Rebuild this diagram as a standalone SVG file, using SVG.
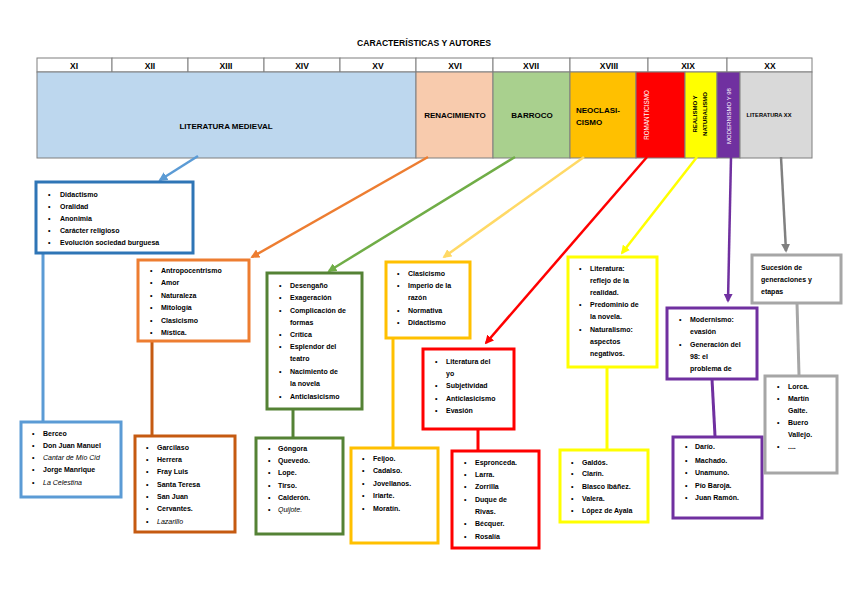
<svg xmlns="http://www.w3.org/2000/svg" width="848" height="599" viewBox="0 0 848 599">
<style>
text{font-family:"Liberation Sans",Arial,sans-serif;}
.t{font-size:7px;font-weight:bold;fill:#000;}
.i{font-size:7px;font-style:italic;font-weight:normal;fill:#000;}
.h{font-size:8.5px;font-weight:bold;fill:#000;text-anchor:middle;}
.p{font-size:8px;font-weight:bold;fill:#000;}
.cell{stroke:#7f7f7f;stroke-width:1;}
.box{fill:#fff;stroke-width:3;}
.con{fill:none;stroke-width:3;}
.arr{fill:none;stroke-width:2.5;}
</style>
<defs>
<marker id="mBlue" viewBox="0 0 10 10" refX="8" refY="5" markerWidth="9" markerHeight="9" markerUnits="userSpaceOnUse" orient="auto"><path d="M0,0 L10,5 L0,10 z" fill="#5b9bd5"/></marker>
<marker id="mOrange" viewBox="0 0 10 10" refX="8" refY="5" markerWidth="9" markerHeight="9" markerUnits="userSpaceOnUse" orient="auto"><path d="M0,0 L10,5 L0,10 z" fill="#ed7d31"/></marker>
<marker id="mGreen" viewBox="0 0 10 10" refX="8" refY="5" markerWidth="9" markerHeight="9" markerUnits="userSpaceOnUse" orient="auto"><path d="M0,0 L10,5 L0,10 z" fill="#70ad47"/></marker>
<marker id="mGold" viewBox="0 0 10 10" refX="8" refY="5" markerWidth="9" markerHeight="9" markerUnits="userSpaceOnUse" orient="auto"><path d="M0,0 L10,5 L0,10 z" fill="#ffd966"/></marker>
<marker id="mRed" viewBox="0 0 10 10" refX="8" refY="5" markerWidth="9" markerHeight="9" markerUnits="userSpaceOnUse" orient="auto"><path d="M0,0 L10,5 L0,10 z" fill="#ff0000"/></marker>
<marker id="mYellow" viewBox="0 0 10 10" refX="8" refY="5" markerWidth="9" markerHeight="9" markerUnits="userSpaceOnUse" orient="auto"><path d="M0,0 L10,5 L0,10 z" fill="#ffff00"/></marker>
<marker id="mPurple" viewBox="0 0 10 10" refX="8" refY="5" markerWidth="9" markerHeight="9" markerUnits="userSpaceOnUse" orient="auto"><path d="M0,0 L10,5 L0,10 z" fill="#7030a0"/></marker>
<marker id="mGray" viewBox="0 0 10 10" refX="8" refY="5" markerWidth="9" markerHeight="9" markerUnits="userSpaceOnUse" orient="auto"><path d="M0,0 L10,5 L0,10 z" fill="#808080"/></marker>
</defs>
<rect width="848" height="599" fill="#fff"/>
<text x="424" y="46" class="h" style="font-size:8.6px">CARACTERÍSTICAS Y AUTORES</text>

<g id="centuries">
<rect class="cell" x="37" y="58" width="75" height="14" fill="#fff"/>
<rect class="cell" x="112" y="58" width="76" height="14" fill="#fff"/>
<rect class="cell" x="188" y="58" width="76" height="14" fill="#fff"/>
<rect class="cell" x="264" y="58" width="76" height="14" fill="#fff"/>
<rect class="cell" x="340" y="58" width="76" height="14" fill="#fff"/>
<rect class="cell" x="416" y="58" width="77" height="14" fill="#fff"/>
<rect class="cell" x="493" y="58" width="77" height="14" fill="#fff"/>
<rect class="cell" x="570" y="58" width="78" height="14" fill="#fff"/>
<rect class="cell" x="648" y="58" width="79" height="14" fill="#fff"/>
<rect class="cell" x="727" y="58" width="85" height="14" fill="#fff"/>
<text class="h" x="74" y="68.5">XI</text>
<text class="h" x="150" y="68.5">XII</text>
<text class="h" x="226" y="68.5">XIII</text>
<text class="h" x="302" y="68.5">XIV</text>
<text class="h" x="378" y="68.5">XV</text>
<text class="h" x="455" y="68.5">XVI</text>
<text class="h" x="531" y="68.5">XVII</text>
<text class="h" x="609" y="68.5">XVIII</text>
<text class="h" x="688" y="68.5">XIX</text>
<text class="h" x="770" y="68.5">XX</text>
</g>

<g id="periods">
<rect class="cell" x="37" y="72" width="379" height="86" fill="#bdd7ee"/>
<rect class="cell" x="416" y="72" width="77" height="86" fill="#f8cbad"/>
<rect class="cell" x="493" y="72" width="77" height="86" fill="#a9d08e"/>
<rect class="cell" x="570" y="72" width="66" height="86" fill="#ffc000"/>
<rect class="cell" x="636" y="72" width="49" height="86" fill="#ff0000"/>
<rect class="cell" x="685" y="72" width="32" height="86" fill="#ffff00"/>
<rect class="cell" x="717" y="72" width="23" height="86" fill="#7030a0"/>
<rect class="cell" x="740" y="72" width="72" height="86" fill="#d9d9d9"/>
<text class="h" x="226" y="129" style="font-size:8px">LITERATURA MEDIEVAL</text>
<text class="h" x="455" y="118" style="font-size:8px">RENACIMIENTO</text>
<text class="h" x="532" y="118" style="font-size:8px">BARROCO</text>
<text class="p" x="576" y="113">NEOCLASI-</text>
<text class="p" x="576" y="125">CISMO</text>
<text class="h" transform="translate(649,115) rotate(-90)" style="font-size:6.3px;fill:#fff;font-weight:normal">ROMANTICISMO</text>
<text class="h" transform="translate(697,114) rotate(-90)" style="font-size:6px">REALISMO Y</text>
<text class="h" transform="translate(707,114) rotate(-90)" style="font-size:6px">NATURALISMO</text>
<text class="h" transform="translate(731,116) rotate(-90)" style="font-size:6px;fill:#fff;font-weight:normal">MODERNISMO Y 98</text>
<text class="h" x="769" y="117" style="font-size:5.7px">LITERATURA XX</text>
</g>

<g id="connectors">
<path class="arr" stroke="#5b9bd5" d="M198,156 L160,180" marker-end="url(#mBlue)"/>
<path class="arr" stroke="#ed7d31" d="M428,157 L252,257" marker-end="url(#mOrange)"/>
<path class="arr" stroke="#70ad47" d="M515,157 L329,271" marker-end="url(#mGreen)"/>
<path class="arr" stroke="#ffd966" d="M584,157 L444,257" marker-end="url(#mGold)"/>
<path class="arr" stroke="#ff0000" d="M647,157 L486,343" marker-end="url(#mRed)"/>
<path class="arr" stroke="#ffff00" d="M697,157 L622,253" marker-end="url(#mYellow)"/>
<path class="arr" stroke="#7030a0" d="M731,157 L728,301" marker-end="url(#mPurple)"/>
<path class="arr" stroke="#808080" d="M781,157 L786,251" marker-end="url(#mGray)"/>
<path class="con" stroke="#5b9bd5" d="M43,253 L43,421"/>
<path class="con" stroke="#c55a11" d="M152,341 L152,435"/>
<path class="con" stroke="#548235" d="M293,409 L293,437"/>
<path class="con" stroke="#ffc000" d="M393,338 L393,447"/>
<path class="con" stroke="#ff0000" d="M478,429 L478,450"/>
<path class="con" stroke="#ffff00" d="M607,367 L607,449"/>
<path class="con" stroke="#7030a0" d="M712,379 L715,436"/>
<path class="con" stroke="#a6a6a6" d="M797,303 L799,375"/>
</g>

<g id="medieval-car">
<rect class="box" x="36" y="182" width="157" height="71" stroke="#2e75b6"/>
<text class="t" x="48" y="197">•</text><text class="t" x="60" y="197">Didactismo</text>
<text class="t" x="48" y="209">•</text><text class="t" x="60" y="209">Oralidad</text>
<text class="t" x="48" y="221">•</text><text class="t" x="60" y="221">Anonimia</text>
<text class="t" x="48" y="233">•</text><text class="t" x="60" y="233">Carácter religioso</text>
<text class="t" x="48" y="245">•</text><text class="t" x="60" y="245">Evolución sociedad burguesa</text>
</g>

<g id="renacimiento-car">
<rect class="box" x="138" y="260" width="111" height="81" stroke="#ed7d31"/>
<text class="t" x="150" y="273">•</text><text class="t" x="161" y="273">Antropocentrismo</text>
<text class="t" x="150" y="285">•</text><text class="t" x="161" y="285">Amor</text>
<text class="t" x="150" y="298">•</text><text class="t" x="161" y="298">Naturaleza</text>
<text class="t" x="150" y="310">•</text><text class="t" x="161" y="310">Mitología</text>
<text class="t" x="150" y="323">•</text><text class="t" x="161" y="323">Clasicismo</text>
<text class="t" x="150" y="335">•</text><text class="t" x="161" y="335">Mística.</text>
</g>

<g id="barroco-car">
<rect class="box" x="267" y="273" width="95" height="136" stroke="#548235"/>
<text class="t" x="279" y="288">•</text><text class="t" x="290" y="288">Desengaño</text>
<text class="t" x="279" y="300">•</text><text class="t" x="290" y="300">Exageración</text>
<text class="t" x="279" y="313">•</text><text class="t" x="290" y="313">Complicación de</text>
<text class="t" x="290" y="325">formas</text>
<text class="t" x="279" y="337">•</text><text class="t" x="290" y="337">Crítica</text>
<text class="t" x="279" y="349">•</text><text class="t" x="290" y="349">Esplendor del</text>
<text class="t" x="290" y="361">teatro</text>
<text class="t" x="279" y="374">•</text><text class="t" x="290" y="374">Nacimiento de</text>
<text class="t" x="290" y="386">la novela</text>
<text class="t" x="279" y="399">•</text><text class="t" x="290" y="399">Anticlasicismo</text>
</g>

<g id="neoclasicismo-car">
<rect class="box" x="386" y="262" width="84" height="76" stroke="#ffc000"/>
<text class="t" x="397" y="276">•</text><text class="t" x="408" y="276">Clasicismo</text>
<text class="t" x="397" y="288">•</text><text class="t" x="408" y="288">Imperio de la</text>
<text class="t" x="408" y="300">razón</text>
<text class="t" x="397" y="313">•</text><text class="t" x="408" y="313">Normativa</text>
<text class="t" x="397" y="325">•</text><text class="t" x="408" y="325">Didactismo</text>
</g>

<g id="romanticismo-car">
<rect class="box" x="423" y="349" width="91" height="80" stroke="#ff0000"/>
<text class="t" x="435" y="364">•</text><text class="t" x="446" y="364">Literatura del</text>
<text class="t" x="446" y="376">yo</text>
<text class="t" x="435" y="388">•</text><text class="t" x="446" y="388">Subjetividad</text>
<text class="t" x="435" y="401">•</text><text class="t" x="446" y="401">Anticlasicismo</text>
<text class="t" x="435" y="413">•</text><text class="t" x="446" y="413">Evasión</text>
</g>

<g id="realismo-car">
<rect class="box" x="568" y="257" width="89" height="110" stroke="#ffff00"/>
<text class="t" x="579" y="271">•</text><text class="t" x="590" y="271">Literatura:</text>
<text class="t" x="590" y="283">reflejo de la</text>
<text class="t" x="590" y="295">realidad.</text>
<text class="t" x="579" y="307">•</text><text class="t" x="590" y="307">Predominio de</text>
<text class="t" x="590" y="319">la novela.</text>
<text class="t" x="579" y="332">•</text><text class="t" x="590" y="332">Naturalismo:</text>
<text class="t" x="590" y="344">aspectos</text>
<text class="t" x="590" y="356">negativos.</text>
</g>

<g id="modernismo-car">
<rect class="box" x="667" y="308" width="90" height="71" stroke="#7030a0"/>
<text class="t" x="679" y="322">•</text><text class="t" x="690" y="322">Modernismo:</text>
<text class="t" x="690" y="334">evasión</text>
<text class="t" x="679" y="347">•</text><text class="t" x="690" y="347">Generación del</text>
<text class="t" x="690" y="359">98: el</text>
<text class="t" x="690" y="371">problema de</text>
</g>

<g id="xx-car">
<rect class="box" x="752" y="255" width="89" height="48" stroke="#a6a6a6"/>
<text class="t" x="761" y="270">Sucesión de</text>
<text class="t" x="761" y="282">generaciones y</text>
<text class="t" x="761" y="294">etapas</text>
</g>

<g id="medieval-aut">
<rect class="box" x="21" y="422" width="100" height="75" stroke="#5b9bd5"/>
<text class="t" x="32" y="436">•</text><text class="t" x="43" y="436">Berceo</text>
<text class="t" x="32" y="448">•</text><text class="t" x="43" y="448">Don Juan Manuel</text>
<text class="t" x="32" y="460">•</text><text class="i" x="43" y="460">Cantar de Mío Cid</text>
<text class="t" x="32" y="472">•</text><text class="t" x="43" y="472">Jorge Manrique</text>
<text class="t" x="32" y="485">•</text><text class="i" x="43" y="485">La Celestina</text>
</g>

<g id="renacimiento-aut">
<rect class="box" x="135" y="436" width="100" height="96" stroke="#c55a11"/>
<text class="t" x="146" y="450">•</text><text class="t" x="157" y="450">Garcilaso</text>
<text class="t" x="146" y="462">•</text><text class="t" x="157" y="462">Herrera</text>
<text class="t" x="146" y="474">•</text><text class="t" x="157" y="474">Fray Luis</text>
<text class="t" x="146" y="487">•</text><text class="t" x="157" y="487">Santa Teresa</text>
<text class="t" x="146" y="499">•</text><text class="t" x="157" y="499">San Juan</text>
<text class="t" x="146" y="511">•</text><text class="t" x="157" y="511">Cervantes.</text>
<text class="t" x="146" y="524">•</text><text class="i" x="157" y="524">Lazarillo</text>
</g>

<g id="barroco-aut">
<rect class="box" x="256" y="438" width="87" height="96" stroke="#548235"/>
<text class="t" x="268" y="451">•</text><text class="t" x="278" y="451">Góngora</text>
<text class="t" x="268" y="463">•</text><text class="t" x="278" y="463">Quevedo.</text>
<text class="t" x="268" y="475">•</text><text class="t" x="278" y="475">Lope.</text>
<text class="t" x="268" y="488">•</text><text class="t" x="278" y="488">Tirso.</text>
<text class="t" x="268" y="500">•</text><text class="t" x="278" y="500">Calderón.</text>
<text class="t" x="268" y="512">•</text><text class="i" x="278" y="512">Quijote.</text>
</g>

<g id="neoclasicismo-aut">
<rect class="box" x="351" y="448" width="87" height="95" stroke="#ffc000"/>
<text class="t" x="362" y="461">•</text><text class="t" x="373" y="461">Feijoo.</text>
<text class="t" x="362" y="473">•</text><text class="t" x="373" y="473">Cadalso.</text>
<text class="t" x="362" y="486">•</text><text class="t" x="373" y="486">Jovellanos.</text>
<text class="t" x="362" y="498">•</text><text class="t" x="373" y="498">Iriarte.</text>
<text class="t" x="362" y="511">•</text><text class="t" x="373" y="511">Moratín.</text>
</g>

<g id="romanticismo-aut">
<rect class="box" x="452" y="451" width="87" height="97" stroke="#ff0000"/>
<text class="t" x="464" y="465">•</text><text class="t" x="475" y="465">Espronceda.</text>
<text class="t" x="464" y="477">•</text><text class="t" x="475" y="477">Larra.</text>
<text class="t" x="464" y="489">•</text><text class="t" x="475" y="489">Zorrilla</text>
<text class="t" x="464" y="502">•</text><text class="t" x="475" y="502">Duque de</text>
<text class="t" x="475" y="514">Rivas.</text>
<text class="t" x="464" y="526">•</text><text class="t" x="475" y="526">Bécquer.</text>
<text class="t" x="464" y="539">•</text><text class="t" x="475" y="539">Rosalía</text>
</g>

<g id="realismo-aut">
<rect class="box" x="560" y="450" width="88" height="72" stroke="#ffff00"/>
<text class="t" x="571" y="465">•</text><text class="t" x="582" y="465">Galdós.</text>
<text class="t" x="571" y="476">•</text><text class="t" x="582" y="476">Clarín.</text>
<text class="t" x="571" y="489">•</text><text class="t" x="582" y="489">Blasco Ibáñez.</text>
<text class="t" x="571" y="501">•</text><text class="t" x="582" y="501">Valera.</text>
<text class="t" x="571" y="513">•</text><text class="t" x="582" y="513">López de Ayala</text>
</g>

<g id="modernismo-aut">
<rect class="box" x="673" y="437" width="89" height="81" stroke="#7030a0"/>
<text class="t" x="685" y="449">•</text><text class="t" x="695" y="449">Darío.</text>
<text class="t" x="685" y="463">•</text><text class="t" x="695" y="463">Machado.</text>
<text class="t" x="685" y="475">•</text><text class="t" x="695" y="475">Unamuno.</text>
<text class="t" x="685" y="488">•</text><text class="t" x="695" y="488">Pío Baroja.</text>
<text class="t" x="685" y="500">•</text><text class="t" x="695" y="500">Juan Ramón.</text>
</g>

<g id="xx-aut">
<rect class="box" x="765" y="376" width="72" height="97" stroke="#a6a6a6"/>
<text class="t" x="777" y="389">•</text><text class="t" x="788" y="389">Lorca.</text>
<text class="t" x="777" y="401">•</text><text class="t" x="788" y="401">Martín</text>
<text class="t" x="788" y="413">Gaite.</text>
<text class="t" x="777" y="425">•</text><text class="t" x="788" y="425">Buero</text>
<text class="t" x="788" y="437">Vallejo.</text>
<text class="t" x="777" y="449">•</text><text class="t" x="788" y="449">....</text>
</g>
</svg>
